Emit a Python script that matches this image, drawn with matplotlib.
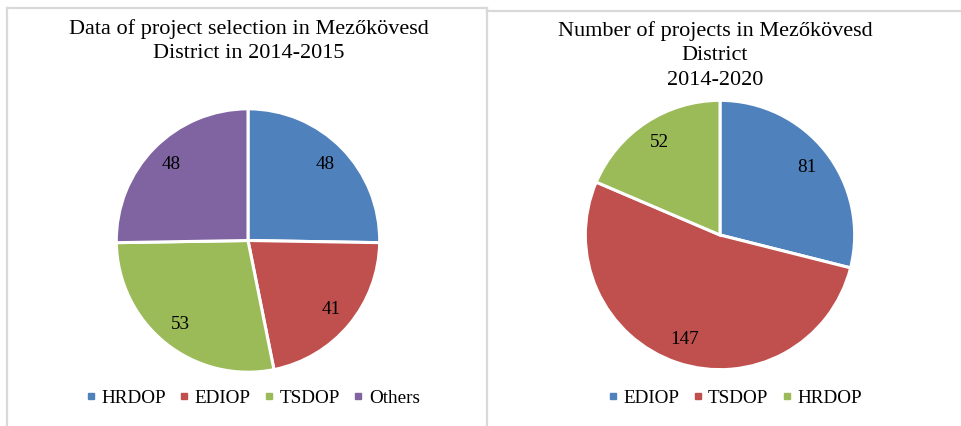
import numpy as np
import matplotlib

matplotlib.use("Agg")
import matplotlib.pyplot as plt
from matplotlib.lines import Line2D

plt.rcParams["font.family"] = ["Liberation Serif", "DejaVu Serif"]

W, H = 962, 426

# left chart: project selection 2014-2015
left_title = "Data of project selection in Mezőkövesd\nDistrict in 2014-2015"
left_labels = ["HRDOP", "EDIOP", "TSDOP", "Others"]
left_values = [48, 41, 53, 48]
left_colors = ["#4F81BD", "#C0504D", "#9BBB59", "#8064A2"]

# right chart: number of projects 2014-2020
right_title = "Number of projects in Mezőkövesd\nDistrict\n2014-2020"
right_labels = ["EDIOP", "TSDOP", "HRDOP"]
right_values = [81, 147, 52]
right_colors = ["#4F81BD", "#C0504D", "#9BBB59"]


def px_axes(fig, cx, cy, r):
    return fig.add_axes([(cx - r) / W, (H - cy - r) / H, 2 * r / W, 2 * r / H])


def draw_pie(fig, cx, cy, r, values, labels, colors, title, title_x, title_y,
             leg_x, leg_y):
    ax = px_axes(fig, cx, cy, r)
    ax.pie(values, colors=colors, startangle=90, counterclock=False,
           radius=1.0, labels=[str(v) for v in values], labeldistance=0.82,
           wedgeprops=dict(edgecolor="white", linewidth=2.2),
           textprops=dict(fontsize=13.8, ha="center", va="center"))
    ax.set_xlim(-1.01, 1.01)
    ax.set_ylim(-1.01, 1.01)
    ax.axis("off")
    fig.text(title_x / W, 1 - title_y / H, title, ha="center", va="top",
             fontsize=16, linespacing=1.38)
    handles = [Line2D([], [], ls="", marker="s", markersize=5, color=c) for c in colors]
    fig.legend(handles, labels, loc="center", bbox_to_anchor=(leg_x / W, 1 - leg_y / H),
               ncol=len(labels), frameon=False, fontsize=13.8, handlelength=0.5,
               handletextpad=0.3, columnspacing=0.7)


fig = plt.figure(figsize=(W / 100, H / 100), dpi=100)

draw_pie(fig, 248, 240.5, 133, left_values, left_labels, left_colors,
         left_title, 249, 19, 253, 398)
draw_pie(fig, 720, 235, 136, right_values, right_labels, right_colors,
         right_title, 715, 21, 735, 398)

# panel borders
grey = "#D9D9D9"
for xs, ys in [([7, 7], [8, H]), ([7, 487], [8, 8]), ([487, 487], [8, H]),
               ([487, W], [10.5, 10.5])]:
    fig.add_artist(Line2D(np.array(xs) / W, 1 - np.array(ys) / H, color=grey,
                          lw=1.6, transform=fig.transFigure))

fig.savefig("out.png", dpi=100)
